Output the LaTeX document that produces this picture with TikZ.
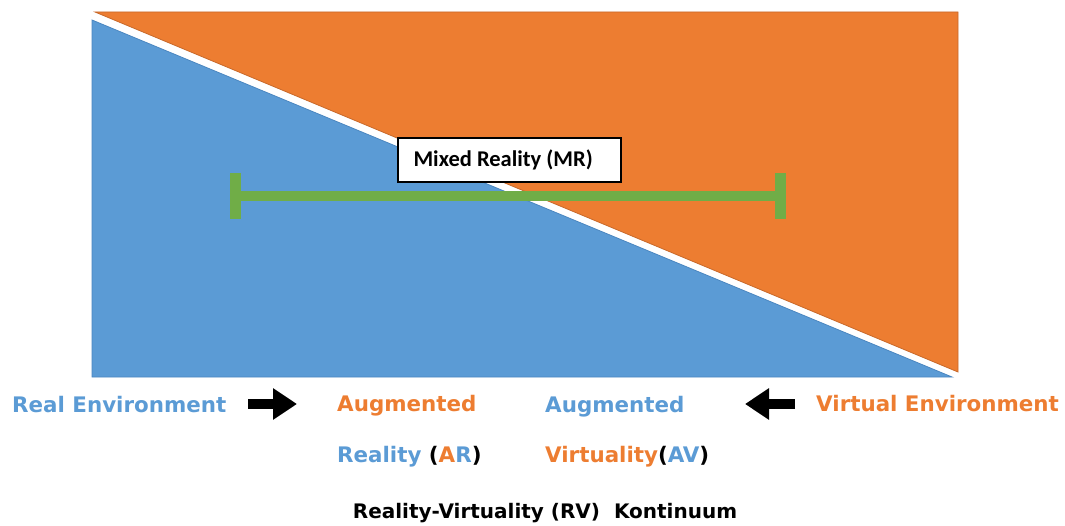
\documentclass[tikz,border=0pt]{standalone}
\usepackage{fontspec}
\setmainfont{Liberation Sans}
\newfontfamily\heavy{DejaVu Sans Bold}
\newfontfamily\calib{Carlito}
\usetikzlibrary{arrows.meta}
\definecolor{realblue}{HTML}{5B9BD5}
\definecolor{realblueedge}{HTML}{4A86C0}
\definecolor{virtorange}{HTML}{ED7D31}
\definecolor{virtorangeedge}{HTML}{C8692A}
\definecolor{mrgreen}{HTML}{70AD47}
\tikzset{
  label/.style={anchor=base west, inner sep=0pt, font=\heavy\fontsize{21.4}{23}\selectfont},
  blockarrow/.style={line width=10pt, -{Triangle[length=24pt,width=30pt]}},
  mrbox/.style={draw=black, line width=1.3pt, fill=white, minimum width=223pt, minimum height=44pt},
  mrtext/.style={anchor=west, inner sep=0pt, font=\calib\bfseries\fontsize{22.5}{24}\selectfont},
  greenbar/.style={draw=mrgreen, line width=10pt},
}
\begin{document}
\begin{tikzpicture}[x=1pt,y=-1pt]
\useasboundingbox (0,0) rectangle (1065,526);
% the two halves of the continuum
\fill[realblue, draw=realblueedge, line width=0.8pt] (92,20) -- (952,377) -- (92,377) -- cycle;
\fill[virtorange, draw=virtorangeedge, line width=0.8pt] (95,12) -- (958,12) -- (958,372) -- cycle;
% mixed reality span
\coordinate (mrL) at (235,196);
\coordinate (mrR) at (780,196);
\draw[greenbar] (mrL) -- (mrR);
\draw[greenbar, line width=11pt] (235,173) -- (235,219);
\draw[greenbar, line width=11pt] (780,173) -- (780,219);
\node[mrbox] (mr) at (509.5,160) {};
\node[mrtext] (mrlabel) at ([xshift=16pt]mr.west) {Mixed Reality (MR)};
% labels
\node[label, text=realblue] (re) at (12,412) {Real Environment};
\node[label, text=virtorange] (aug1) at (337,411) {Augmented};
\node[label, text=realblue] (ar) at (337,462) {Reality \textcolor{black}{(}\textcolor{virtorange}{A}R\textcolor{black}{)}};
\node[label, text=realblue] (aug2) at (545,412) {Augmented};
\node[label, text=virtorange] (av) at (545,462) {Virtuality\textcolor{black}{(}\textcolor{realblue}{AV}\textcolor{black}{)}};
\node[label, text=virtorange] (ve) at (816,411) {Virtual Environment};
\node[label, anchor=base, font=\heavy\fontsize{20}{22}\selectfont] (rv) at (545,518) {Reality-Virtuality (RV)\ \ Kontinuum};
% arrows toward the middle
\coordinate (a1s) at (248,404);
\coordinate (a1e) at (297,404);
\coordinate (a2s) at (795,404);
\coordinate (a2e) at (745,404);
\draw[blockarrow] (a1s) -- (a1e);
\draw[blockarrow] (a2s) -- (a2e);
\end{tikzpicture}
\end{document}
